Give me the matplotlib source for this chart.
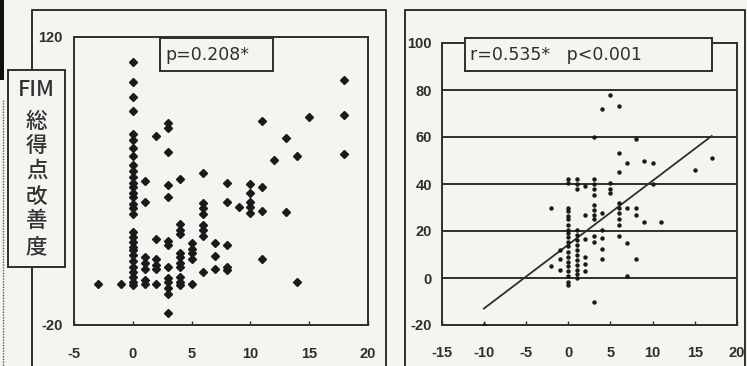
import matplotlib
matplotlib.use("Agg")
import matplotlib.pyplot as plt
from matplotlib.patches import Rectangle
from matplotlib.lines import Line2D

plt.rcParams["axes.unicode_minus"] = False

# ---------------- data ----------------
# Left panel (x value, list of y values)
left_x = [-3, -1, 0, 1, 2, 3, 4, 5, 6, 7, 8, 9, 10, 11, 12, 13, 14, 15, 18]
left_y = [
    [0],
    [0],
    [108, 98, 91, 84, 73, 70, 66, 62, 58, 55, 52, 49, 47, 44, 42, 39, 37, 34,
     25, 23, 20.5, 18, 16.5, 14, 11, 8, 6, 3.5, 1, -0.5],
    [50, 40, 13, 10, 7, 2, 0],
    [72, 22, 12, 9, 7, 0],
    [78, 76, 64, 48, 42, 21, 19, 8, 3, 1, -2, -5, -14],
    [51, 29, 26, 24, 15, 13, 10, 8, 3.5, 1, -0.5],
    [20, 17, 15, 12, 0],
    [54, 39.5, 37, 34, 28.5, 26, 23.5, 6],
    [20, 13.5, 7],
    [49, 40, 19, 8, 6.5],
    [37.5],
    [48.5, 44, 40, 37.5, 34.5],
    [79, 47, 35.6, 12],
    [60],
    [71, 35],
    [62, 1],
    [81],
    [99, 82, 63],
]
left_xticks = [-5, 0, 5, 10, 15, 20]
left_yticks = [-20, 120]
left_label = "p=0.208*"
ylabel_lines = ["FIM", "総", "得", "点", "改", "善", "度"]

# Right panel
right_x = [-10, -2, -1, 0, 1, 2, 3, 4, 5, 6, 7, 8, 9, 10, 11, 15, 17]
right_y = [
    [-20],
    [30, 5],
    [12, 8, 3.5],
    [42, 40.5, 30, 28.5, 26.5, 25, 22.5, 20.5, 19, 17.5, 15.5, 13.5, 11, 9,
     7, 5, 3, 1, -1.5, -3],
    [42, 40, 38, 20.5, 18.5, 16, 14, 12, 10, 7.5, 5.5, 3.5, 1.5, 0],
    [39, 27, 16.5, 9, 6, 3],
    [60, 42, 40, 38, 35.5, 31, 29, 27, 25, 18, 15.5, -10],
    [72, 27.5, 20.5, 17, 12.5, 8],
    [78, 40.5, 38, 36],
    [73, 53, 45, 32, 30, 27.5, 25, 22.5, 18],
    [49, 30, 15, 1],
    [59, 30, 27, 8],
    [50, 24],
    [49, 40],
    [24],
    [46],
    [51],
]
right_xticks = [-15, -10, -5, 0, 5, 10, 15, 20]
right_yticks = [-20, 0, 20, 40, 60, 80, 100]
reg_x = [-10, 17]
reg_slope = 2.72
reg_intercept = 14.2
right_label = "r=0.535*   p<0.001"

# ---------------- layout ----------------
W, H = 747, 366
BG = "#f4f5f1"
INK = "#2e2e2e"

fig = plt.figure(figsize=(W / 100, H / 100), dpi=100, facecolor=BG)


def fx(x):
    return x / W


def fy(y):
    return 1 - y / H


def axes_px(x0, y0, x1, y1):
    return fig.add_axes([fx(x0), fy(y1), (x1 - x0) / W, (y1 - y0) / H])


tick_font = dict(family=["Liberation Sans", "DejaVu Sans"],
                 weight="bold", size=10.5)


def fig_line(xs, ys, **kw):
    fig.add_artist(Line2D([fx(v) for v in xs], [fy(v) for v in ys],
                          transform=fig.transFigure, **kw))


# ---- panel frames ----
fig_line([32, 32, 386, 386], [366, 10, 10, 366], color=INK, lw=1.4)
fig_line([405, 405, 745, 745], [366, 10, 10, 366], color=INK, lw=1.4)
# scan artefacts at left edge
fig.add_artist(Rectangle((0, fy(80)), fx(3.5), 80 / H, transform=fig.transFigure,
                         facecolor="#111111", edgecolor="none"))
fig_line([3, 3], [100, 366], color="#555555", lw=1.0, ls=(0, (1, 1)))

# ---------------- left axes ----------------
axL = axes_px(74, 37, 368, 325)
axL.set_facecolor(BG)
for xv, ys in zip(left_x, left_y):
    axL.plot([xv] * len(ys), ys, linestyle="none", marker="D", ms=4.2,
             color="#1a1a1a", mec="#1a1a1a")
axL.set_xlim(-5, 20)
axL.set_ylim(-20, 120)
axL.set_xticks(left_xticks)
axL.set_yticks(left_yticks)
axL.tick_params(axis="x", direction="in", length=3, width=1, pad=16,
                colors=INK)
axL.tick_params(axis="y", length=0, pad=8, colors=INK)
for lab in axL.get_xticklabels() + axL.get_yticklabels():
    lab.set_fontproperties(tick_font)
    lab.set_color(INK)
for s in axL.spines.values():
    s.set_linewidth(1.4)
    s.set_color(INK)

# left annotation box
fig.add_artist(Rectangle((fx(160), fy(71)), (273 - 160) / W, (71 - 38) / H,
                         transform=fig.transFigure, facecolor=BG,
                         edgecolor=INK, lw=1.4, zorder=5))
fig.text(fx(165), fy(55), left_label, fontsize=12.5, color=INK,
         family="DejaVu Sans", va="center", ha="left", zorder=6)

# y label box
fig.add_artist(Rectangle((fx(8), fy(267)), (65 - 8) / W, (267 - 70) / H,
                         transform=fig.transFigure, facecolor=BG,
                         edgecolor=INK, lw=1.4, zorder=5))
ylab_pos = [90, 122, 146, 171, 197, 221, 247]
for t, yp in zip(ylabel_lines, ylab_pos):
    fig.text(fx(36.5), fy(yp), t, fontsize=15.5, color="#333333",
             family=["Noto Sans CJK JP", "DejaVu Sans"], weight="medium",
             ha="center", va="center", zorder=6)

# ---------------- right axes ----------------
axR = axes_px(441.7, 43, 737, 325)
axR.set_facecolor(BG)
axR.set_xlim(-15, 20)
axR.set_ylim(-20, 100)
for yv in right_yticks[1:-1]:
    axR.axhline(yv, color=INK, lw=1.4, zorder=1)
for xv, ys in zip(right_x, right_y):
    axR.plot([xv] * len(ys), ys, linestyle="none", marker="o", ms=3.2,
             color="#1a1a1a", mec="none", zorder=3)
axR.plot(reg_x, [reg_intercept + reg_slope * v for v in reg_x],
         color=INK, lw=1.3, zorder=2)
axR.set_xticks(right_xticks)
axR.set_yticks(right_yticks)
axR.tick_params(axis="x", direction="in", length=3, width=1, pad=15,
                colors=INK)
axR.tick_params(axis="y", length=0, pad=7, colors=INK)
for lab in axR.get_xticklabels() + axR.get_yticklabels():
    lab.set_fontproperties(tick_font)
    lab.set_color(INK)
for s in axR.spines.values():
    s.set_linewidth(1.4)
    s.set_color(INK)

# right annotation box
fig.add_artist(Rectangle((fx(465), fy(71)), (712 - 465) / W, (71 - 38) / H,
                         transform=fig.transFigure, facecolor=BG,
                         edgecolor=INK, lw=1.4, zorder=5))
fig.text(fx(470), fy(55), right_label, fontsize=12.5, color=INK,
         family="DejaVu Sans", va="center", ha="left", zorder=6)

fig.savefig("out.png", dpi=100, facecolor=BG)
